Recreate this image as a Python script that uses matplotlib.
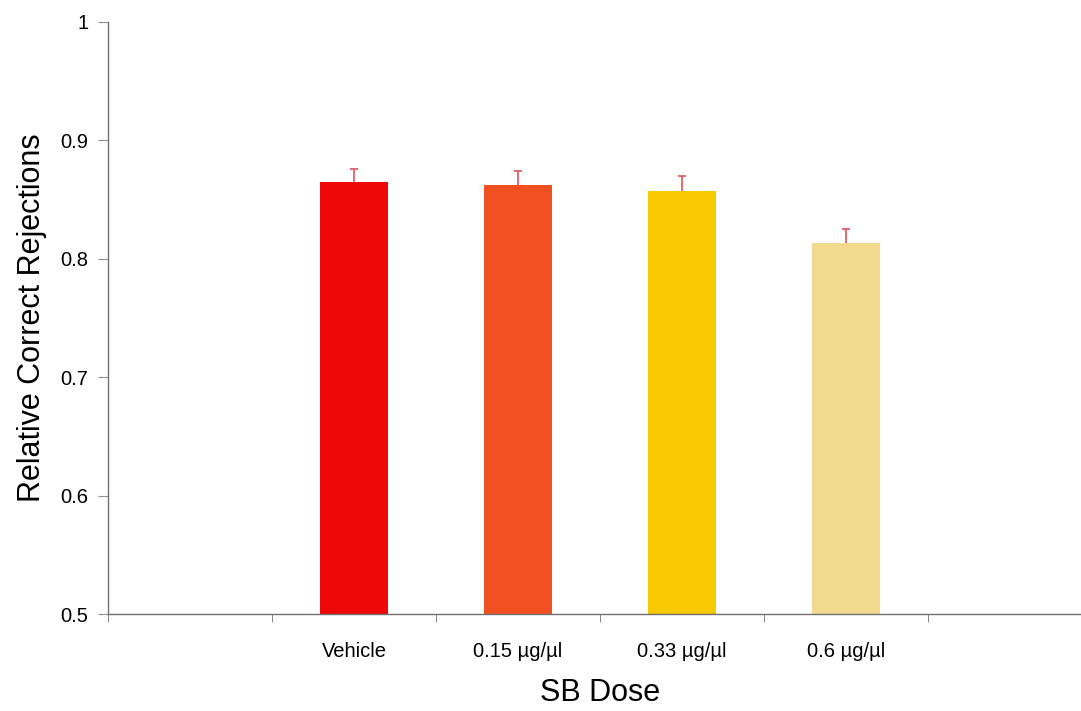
## Bar chart of relative correct rejections across SB doses

import numpy as np
import matplotlib.pyplot as plt

plt.rcParams['font.family'] = ['Liberation Sans', 'DejaVu Sans']

## Data
doses = ['', 'Vehicle', '0.15 µg/µl', '0.33 µg/µl', '0.6 µg/µl', '']
rejections = [np.nan, 0.865, 0.8625, 0.8575, 0.813, np.nan]
errors = [0, 0.011, 0.0115, 0.0125, 0.012, 0]
bar_colors = ['none', '#ef0808', '#f04f20', '#f8c800', '#f2da8c', 'none']

y_ticks = [0.5, 0.6, 0.7, 0.8, 0.9, 1.0]
y_tick_labels = ['0.5', '0.6', '0.7', '0.8', '0.9', '1']

fig = plt.figure(figsize=(10.81, 7.11), dpi=100)
ax = fig.add_axes([108/1081, 96.7/711, 984/1081, 592.5/711])

x = np.arange(len(doses))
ax.bar(x, rejections, width=0.41, bottom=0, color=bar_colors, zorder=2)
# error bars go under the bars so only the upper half shows
ax.errorbar(x[1:5], rejections[1:5], yerr=errors[1:5],
            fmt='none', ecolor='#e0505a', elinewidth=1.2, capsize=2.8, capthick=1.2, zorder=1)

ax.set_xlim(-0.5, 5.5)
ax.set_ylim(0.5, 1.0)

# category labels sit under bars, tick marks sit between categories
ax.set_xticks(x)
ax.set_xticklabels(doses, fontsize=14.5)
ax.tick_params(axis='x', which='major', length=0, pad=20)
ax.set_xticks(np.arange(-0.5, 5.6, 1.0), minor=True)
ax.tick_params(axis='x', which='minor', length=6, color='#707070', direction='out')

ax.set_yticks(y_ticks)
ax.set_yticklabels(y_tick_labels, fontsize=14.5)
ax.tick_params(axis='y', length=7, color='#909090', pad=7)

for side in ['top', 'right']:
    ax.spines[side].set_visible(False)
for side in ['left', 'bottom']:
    ax.spines[side].set_color('#707070')
    ax.spines[side].set_linewidth(1.0)

ax.set_ylabel('Relative Correct Rejections', fontsize=22, labelpad=10)
ax.set_xlabel('SB Dose', fontsize=22, labelpad=12)

fig.savefig('out.png', dpi=100)
